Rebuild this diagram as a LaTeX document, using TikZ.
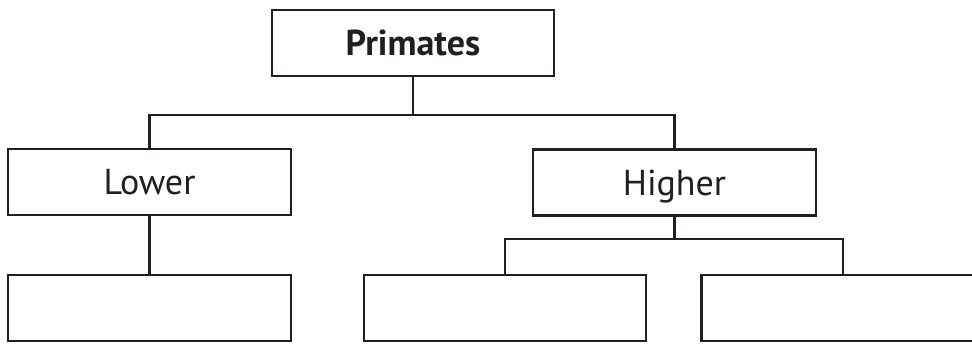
\documentclass[tikz,border=0pt]{standalone}
\usepackage{fontspec}
\setmainfont{PT Sans}
\definecolor{ink}{HTML}{231F20}
\tikzset{
  box/.style={draw=ink,line width=2.2pt,minimum width=283pt,minimum height=66pt,
    inner sep=0pt,text height=25pt,text depth=0pt,text=ink,
    font=\fontsize{36}{40}\selectfont},
  link/.style={draw=ink,line width=2.2pt}
}
\begin{document}
\begin{tikzpicture}[x=1pt,y=-1pt]
\useasboundingbox (0,0) rectangle (972,343);
\clip (0,0) rectangle (972,343);
\node[box,minimum width=282pt] (primates) at (413,43) {\bfseries Primates};
\node[box] (lower) at (149.5,182) {Lower};
\node[box] (higher) at (674.5,182.5) {Higher};
\node[box] (lowleaf) at (149.5,308) {};
\node[box,minimum width=282pt] (highleafa) at (505,308) {};
\node[box] (highleafb) at (843,308) {};
\coordinate (top) at (413,115);
\coordinate (mid) at (674.5,239);
\draw[link] (primates) -- (top);
\draw[link] (lower.north) |- (top) -| (higher.north);
\draw[link] (lower) -- (lowleaf);
\draw[link] (higher) -- (mid);
\draw[link] (highleafa.north) |- (mid) -| (highleafb.north);
\end{tikzpicture}
\end{document}
